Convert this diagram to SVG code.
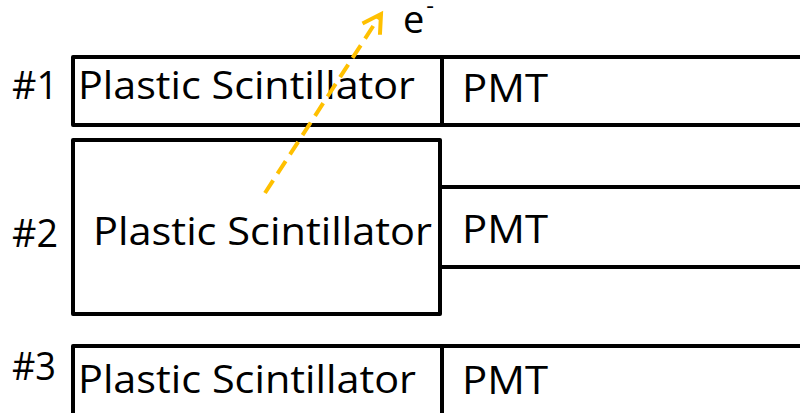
<svg xmlns="http://www.w3.org/2000/svg" width="800" height="413" viewBox="0 0 800 413">
  <style>
    .box { fill: none; stroke: #000; stroke-width: 4; stroke-linejoin: round; }
    .lbl { font-family: "Open Sans", "Liberation Sans", sans-serif; font-size: 38px; fill: #000; }
    .arrow { fill: none; stroke: #FFC000; stroke-width: 4; stroke-dasharray: 15 8; }
  </style>
  <defs>
    <marker id="openHead" markerUnits="userSpaceOnUse" viewBox="-25 -15 30 30" markerWidth="30" markerHeight="30" refX="0" refY="0" orient="auto">
      <path d="M-18,-10.4 L0,0 L-18,10.4" fill="none" stroke="#FFC000" stroke-width="4" stroke-linejoin="miter"/>
    </marker>
  </defs>
  <rect width="800" height="413" fill="#fff"/>

  <g id="row1">
    <text class="lbl" x="12" y="99" textLength="46" lengthAdjust="spacingAndGlyphs">#1</text>
    <g id="scint1">
      <rect class="box" x="73" y="57" width="369" height="68"/>
      <text class="lbl" x="78" y="99" textLength="337" lengthAdjust="spacingAndGlyphs">Plastic Scintillator</text>
    </g>
    <g id="pmt1">
      <rect class="box" x="442" y="57" width="362" height="68"/>
      <text class="lbl" x="462" y="102" textLength="86" lengthAdjust="spacingAndGlyphs">PMT</text>
    </g>
  </g>

  <g id="row2">
    <text class="lbl" x="12" y="247" textLength="46" lengthAdjust="spacingAndGlyphs">#2</text>
    <g id="scint2">
      <rect class="box" x="73" y="140" width="367" height="174"/>
      <text class="lbl" x="93" y="245" textLength="339" lengthAdjust="spacingAndGlyphs">Plastic Scintillator</text>
    </g>
    <g id="pmt2">
      <rect class="box" x="440" y="187" width="364" height="80"/>
      <text class="lbl" x="462" y="243" textLength="86" lengthAdjust="spacingAndGlyphs">PMT</text>
    </g>
  </g>

  <g id="row3">
    <text class="lbl" x="12" y="380" textLength="44" lengthAdjust="spacingAndGlyphs">#3</text>
    <g id="scint3">
      <rect class="box" x="73" y="346" width="369" height="80"/>
      <text class="lbl" x="78" y="393" textLength="338" lengthAdjust="spacingAndGlyphs">Plastic Scintillator</text>
    </g>
    <g id="pmt3">
      <rect class="box" x="442" y="346" width="362" height="80"/>
      <text class="lbl" x="462" y="394" textLength="86" lengthAdjust="spacingAndGlyphs">PMT</text>
    </g>
  </g>

  <g id="connectors">
    <line class="arrow" x1="265" y1="193" x2="381" y2="14" marker-end="url(#openHead)"/>
  </g>

  <g id="electron">
    <text class="lbl" x="403" y="33">e<tspan font-size="24" dy="-19" dx="2">-</tspan></text>
  </g>
</svg>
